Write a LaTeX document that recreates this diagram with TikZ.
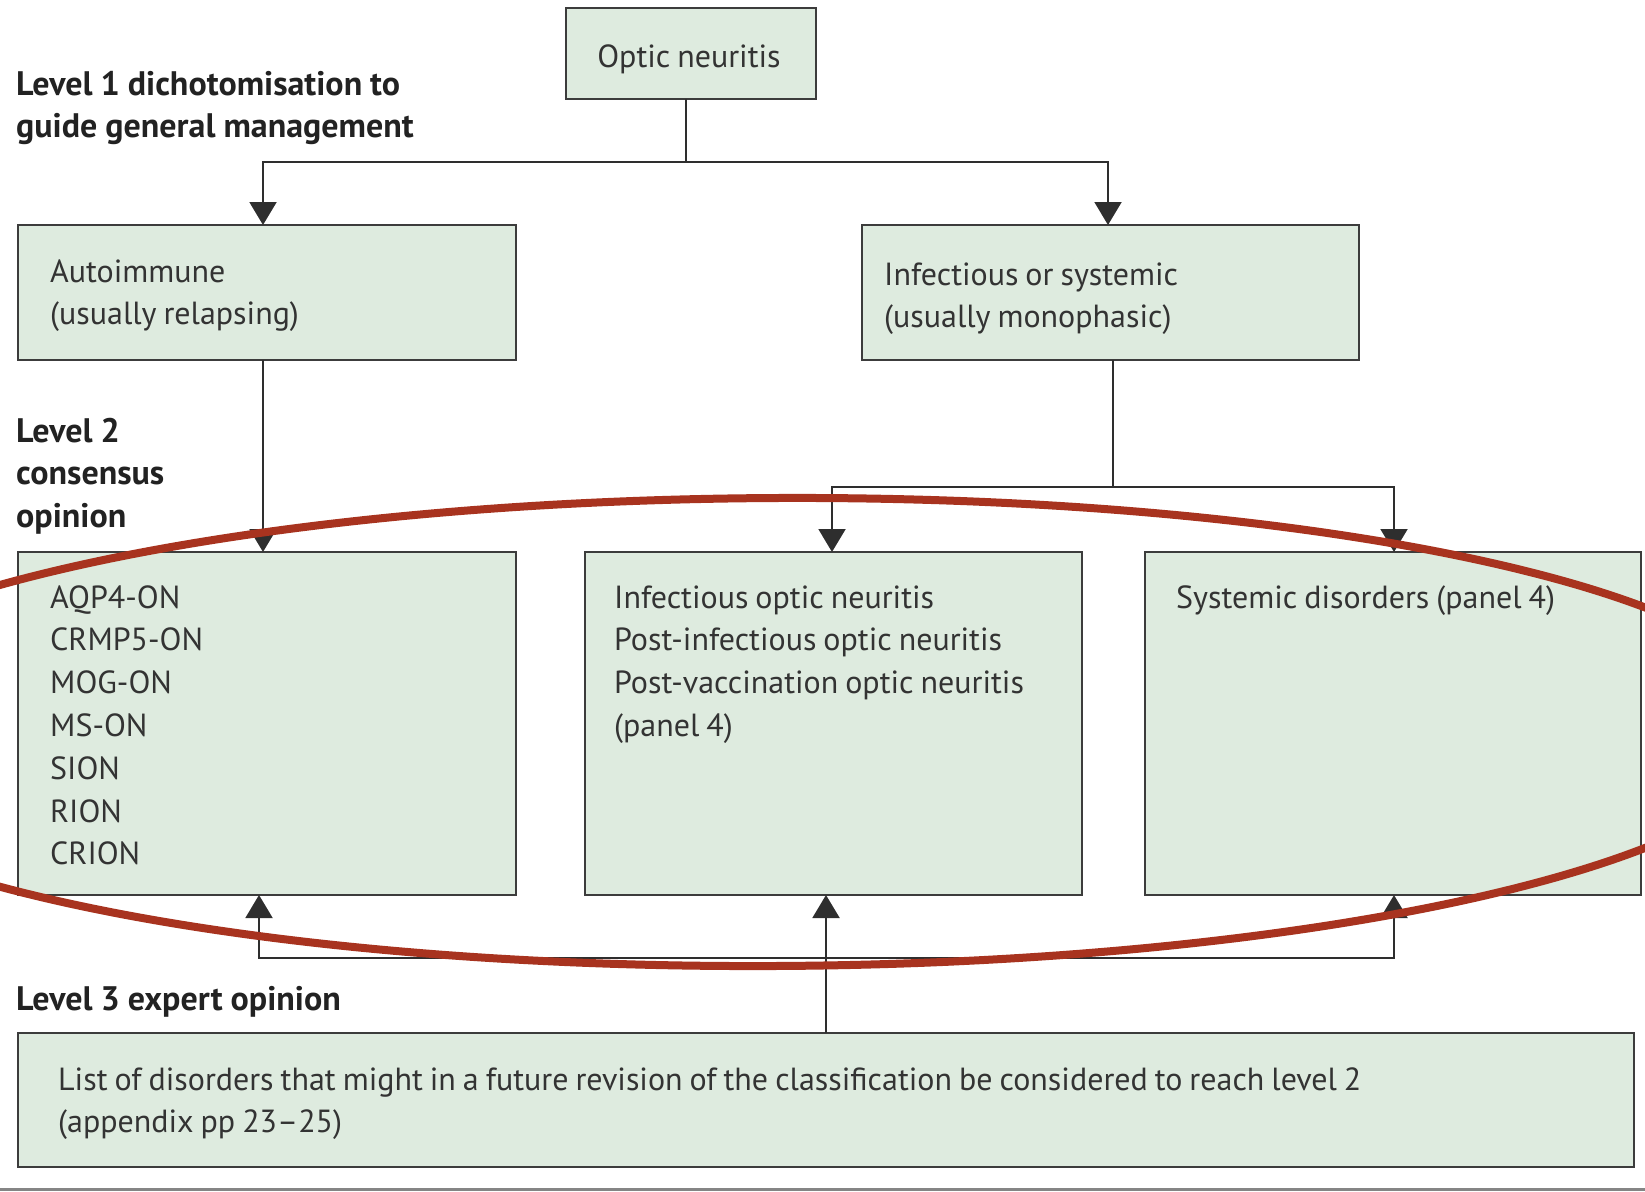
\documentclass[tikz,border=0pt]{standalone}
\usepackage{fontspec}
\setmainfont{PT Sans}
\usetikzlibrary{arrows.meta}

\definecolor{boxfill}{HTML}{DEEBDF}
\definecolor{boxline}{HTML}{3C3C3C}
\definecolor{linkc}{HTML}{2E2E2E}
\definecolor{txt}{HTML}{333333}
\definecolor{headc}{HTML}{222222}
\definecolor{ring}{HTML}{A8331F}
\definecolor{rulec}{HTML}{858585}

\newcommand{\bodyfont}{\fontsize{32}{42.8}\selectfont}
\newcommand{\headfont}{\fontsize{34}{42.5}\selectfont\bfseries}

\begin{document}
\begin{tikzpicture}[x=1pt,y=-1pt,
  box/.style={draw=boxline, fill=boxfill, line width=2.5pt, inner sep=0pt, outer sep=0pt, anchor=north west},
  tight/.style={execute at begin node={\spaceskip=#1 plus 2pt minus 1pt\relax}},
  body/.style={anchor=base west, inner sep=0pt, text=txt, align=left, text width=#1, font=\bodyfont, tight=7pt},
  head/.style={anchor=base west, inner sep=0pt, text=headc, align=left, text width=#1, font=\headfont, tight=8pt},
  link/.style={draw=linkc, line width=2pt},
  tip/.style={-{Triangle[width=27pt,length=23pt]}},
]
\useasboundingbox (0,0) rectangle (1645,1191);
\clip (0,0) rectangle (1645,1191);

% boxes
\node[box, minimum width=250pt, minimum height=91pt]  (on)  at (566,8)    {};
\node[box, minimum width=498pt, minimum height=135pt] (auto) at (18,225)  {};
\node[box, minimum width=497pt, minimum height=135pt] (inf) at (862,225)  {};
\node[box, minimum width=498pt, minimum height=343pt] (l2a) at (18,552)   {};
\node[box, minimum width=497pt, minimum height=343pt] (l2b) at (585,552)  {};
\node[box, minimum width=496pt, minimum height=343pt] (l2c) at (1145,552) {};
\node[box, minimum width=1616pt, minimum height=134pt] (l3) at (18,1033)  {};

% texts
\node[inner sep=0pt, anchor=base, text=txt, font=\bodyfont, tight=7pt] (ontxt) at (689,67) {Optic neuritis};
\node[head=480pt] (lv1) at (16,95) {Level 1 dichotomisation to\\guide general management};
\node[body=460pt] (autotxt) at (50,282) {Autoimmune\\(usually relapsing)};
\node[body=460pt] (inftxt) at (884,285) {Infectious or systemic\\(usually monophasic)};
\node[head=200pt] (lv2) at (16,442) {Level 2\\consensus\\opinion};
\node[body=440pt] (l2atxt) at (50,608) {AQP4-ON\\CRMP5-ON\\MOG-ON\\MS-ON\\SION\\RION\\CRION};
\node[body=465pt] (l2btxt) at (614,608) {Infectious optic neuritis\\Post-infectious optic neuritis\\Post-vaccination optic neuritis\\(panel 4)};
\node[body=460pt] (l2ctxt) at (1176,608) {Systemic disorders (panel 4)};
\node[head=480pt] (lv3) at (16,1010) {Level 3 expert opinion};
\node[body=1560pt] (l3txt) at (58,1090) {List of disorders that might in a future revision of the classification be considered to reach level 2\\(appendix pp 23--25)};

% level 1 split
\coordinate (j1) at (686,162);
\coordinate (aL) at (263,162);
\coordinate (aR) at (1108,162);
\draw[link] (on.south -| j1) -- (j1);
\draw[link,tip] (j1) -- (aL) -- (auto.north -| aL);
\draw[link,tip] (j1) -- (aR) -- (inf.north -| aR);

% autoimmune to level 2
\draw[link,tip] (auto.south -| aL) -- (l2a.north -| aL);

% infectious or systemic to level 2
\coordinate (j2) at (1113,487);
\coordinate (bL) at (832,487);
\coordinate (bR) at (1394,487);
\draw[link] (inf.south -| j2) -- (j2);
\draw[link,tip] (j2) -- (bL) -- (l2b.north -| bL);
\draw[link,tip] (j2) -- (bR) -- (l2c.north -| bR);

% level 3 feeding level 2
\coordinate (j3) at (826,958);
\coordinate (cL) at (259,958);
\coordinate (cR) at (1394,958);
\draw[link,tip] (l3.north -| j3) -- (l2b.south -| j3);
\draw[link,tip] (j3) -- (cL) -- (l2a.south -| cL);
\draw[link,tip] (j3) -- (cR) -- (l2c.south -| cR);

% highlight ring around level 2
\draw[ring, line width=8pt, rotate around={0.3:(775,732)}] (775,732) ellipse [x radius=1014pt, y radius=234pt];

% closing rule
\draw[rulec, line width=3pt] (0,1189.5) -- (1645,1189.5);
\end{tikzpicture}
\end{document}
